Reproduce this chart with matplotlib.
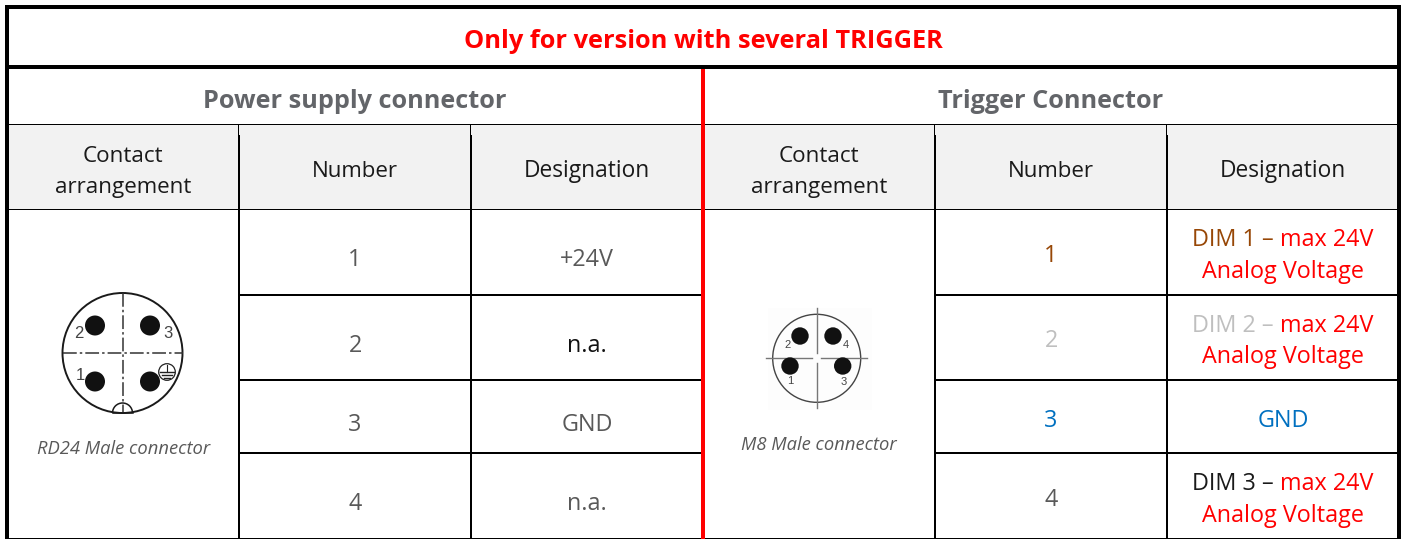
import matplotlib
matplotlib.use("Agg")
import matplotlib.pyplot as plt
from matplotlib.patches import Circle, Rectangle, Arc

FONT = "Open Sans"
plt.rcParams["font.family"] = [FONT, "DejaVu Sans"]

TITLE = "Only for version with several TRIGGER"
SECTIONS = ["Power supply connector", "Trigger Connector"]
COLUMNS = ["Contact\narrangement", "Number", "Designation"]
LEFT_NUMBERS = ["1", "2", "3", "4"]
LEFT_DESIGNATIONS = ["+24V", "n.a.", "GND", "n.a."]
LEFT_DESIGNATION_COLORS = ["#595959", "#111111", "#595959", "#595959"]
RIGHT_NUMBERS = ["1", "2", "3", "4"]
RIGHT_NUMBER_COLORS = ["#974706", "#bfbfbf", "#0070c0", "#595959"]
CAPTIONS = ["RD24 Male connector", "M8 Male connector"]

RED = "#ff0000"
GREY = "#595959"
DARK = "#1a1a1a"
HEAD = "#636569"

fig = plt.figure(figsize=(14.03, 5.39), dpi=100)
ax = fig.add_axes([0, 0, 1, 1])
ax.set_xlim(0, 1403)
ax.set_ylim(539, 0)
ax.axis("off")

LW = 72 / 100  # one pixel in points


def hline(y, x0, x1, px, c="black", z=3):
    ax.add_patch(Rectangle((x0, y - px / 2), x1 - x0, px, fc=c, ec="none", zorder=z))


def vline(x, y0, y1, px, c="black", z=3):
    ax.add_patch(Rectangle((x - px / 2, y0), px, y1 - y0, fc=c, ec="none", zorder=z))


def width_of(s, **kw):
    r = fig.canvas.get_renderer()
    a = ax.text(0, 0, s + ".", **kw)
    b = ax.text(0, 0, ".", **kw)
    w = a.get_window_extent(r).width - b.get_window_extent(r).width
    a.remove()
    b.remove()
    return w


def rich(cx, y, parts, size):
    kw = dict(fontsize=size)
    total = width_of("".join(p[0] for p in parts), **kw)
    x = cx - total / 2
    prefix = ""
    for s, c in parts:
        ax.text(x + (width_of(prefix, **kw) if prefix else 0), y, s, color=c,
                ha="left", va="baseline", **kw)
        prefix += s


# header fill
ax.add_patch(Rectangle((9, 125), 1388, 84, fc="#f2f2f2", ec="none", zorder=1))

# horizontal rules
hline(7, 5, 1401, 4)
hline(67, 5, 1401, 4)
hline(124.5, 9, 1397, 1)
hline(209.5, 9, 1397, 1)
for y in (295, 380, 453):
    hline(y, 239, 703, 2)
    hline(y, 935, 1397, 2)
hline(538.5, 5, 1401, 1.5)

# vertical rules
vline(7, 5, 539, 4)
vline(1399, 5, 539, 4)
vline(703, 69, 539, 3.5, RED, z=4)
for x in (239, 471, 935, 1167):
    vline(x - 0.5, 125, 135, 1)
    vline(x, 135, 539, 2)

COL = 16.1
VAL = 16.8

ax.text(703, 48, TITLE, color=RED, fontsize=18.25, fontweight="bold", ha="center", va="baseline")
ax.text(355, 108, SECTIONS[0], color=HEAD, fontsize=18.2, fontweight="bold", ha="center", va="baseline")
ax.text(1051, 108, SECTIONS[1], color=HEAD, fontsize=18.2, fontweight="bold", ha="center", va="baseline")

for off in (0, 696):
    a, b = COLUMNS[0].split("\n")
    ax.text(123 + off, 161.5, a, color=DARK, fontsize=COL, ha="center", va="baseline")
    ax.text(123 + off, 193, b, color=DARK, fontsize=COL, ha="center", va="baseline")
    ax.text(355 + off, 177, COLUMNS[1], color=DARK, fontsize=COL, ha="center", va="baseline")
    ax.text(587 + off, 177, COLUMNS[2], color=DARK, fontsize=COL + 0.3, ha="center", va="baseline")

for y, n, d, c in zip((266, 352, 431, 510), LEFT_NUMBERS, LEFT_DESIGNATIONS, LEFT_DESIGNATION_COLORS):
    ax.text(355, y, n, color=GREY, fontsize=VAL, ha="center", va="baseline")
    ax.text(587, y, d, color=c, fontsize=VAL, ha="center", va="baseline")

for y, n, c in zip((262, 347, 427, 506), RIGHT_NUMBERS, RIGHT_NUMBER_COLORS):
    ax.text(1051, y, n, color=c, fontsize=VAL, ha="center", va="baseline")

SUFFIX = "max 24V"
ANALOG = "Analog Voltage"
rich(1283, 246, [("DIM 1 ", "#974706"), ("\u2013 ", "#974706"), (SUFFIX, RED)], VAL)
ax.text(1283, 278, ANALOG, color=RED, fontsize=VAL, ha="center", va="baseline")
rich(1283, 332, [("DIM 2 \u2013 ", "#bfbfbf"), (SUFFIX, RED)], VAL)
ax.text(1283, 363, ANALOG, color=RED, fontsize=VAL, ha="center", va="baseline")
ax.text(1283, 427, "GND", color="#0070c0", fontsize=VAL, ha="center", va="baseline")
rich(1283, 490, [("DIM 3 \u2013 ", DARK), (SUFFIX, RED)], VAL)
ax.text(1283, 522, ANALOG, color=RED, fontsize=VAL, ha="center", va="baseline")

# captions
ax.text(123.5, 453.5, CAPTIONS[0], color=GREY, fontsize=13.2, fontstyle="italic", ha="center", va="baseline")
ax.text(819, 449.5, CAPTIONS[1], color=GREY, fontsize=13.2, fontstyle="italic", ha="center", va="baseline")

# RD24 connector
RD_C = (122.5, 353)
RD_PINS = [(95, 325.5), (150, 325.5), (95, 381.5), (150, 381.5)]
RD_LABELS = [("2", 79, 334), ("3", 167.5, 334), ("1", 80, 376)]
ax.add_patch(Circle(RD_C, 60, fc="white", ec="#1a1a1a", lw=1.4, zorder=2))
for p in RD_PINS:
    ax.add_patch(Circle(p, 10, fc="#111111", ec="none", zorder=3))
dash = (0, (9, 2, 1.6, 2))
ax.plot([62.5, 182.5], [353, 353], color="#333333", lw=1.1, ls=dash, zorder=3)
ax.plot([122.5, 122.5], [293, 413], color="#333333", lw=1.1, ls=dash, zorder=3)
for s, x, y in RD_LABELS:
    ax.text(x, y, s, color="#444444", fontsize=12, family="Liberation Sans", ha="center", va="center", zorder=4)
# key
ax.add_patch(Arc((122.5, 413), 20, 20, theta1=180, theta2=360, ec="#1a1a1a", lw=1.1, zorder=4))
ax.plot([112.5, 132.5], [413, 413], color="#1a1a1a", lw=1.1, zorder=4)
# earth symbol
ax.add_patch(Circle((167, 372), 8.3, fc="white", ec="#222222", lw=0.9, zorder=4))
ax.plot([167, 167], [364.5, 372], color="#222222", lw=0.8, zorder=5)
ax.plot([160, 174], [372, 372], color="#222222", lw=1.0, zorder=5)
ax.plot([162, 172], [375, 375], color="#222222", lw=1.0, zorder=5)
ax.plot([164, 170], [378, 378], color="#222222", lw=1.0, zorder=5)

# M8 connector
M8_C = (816.7, 358.3)
M8_PINS = [(800, 336), (833, 336), (790, 366), (842.7, 366)]
M8_LABELS = [("2", 787.5, 345), ("4", 846, 345), ("1", 790, 381.5), ("3", 844, 382)]
ax.add_patch(Rectangle((768, 308), 104, 102, fc="#fdfdfd", ec="none", zorder=1))
ax.add_patch(Circle(M8_C, 44, fc="none", ec="#444444", lw=1.0, zorder=2))
ax.plot([766, 812], [358.3, 358.3], color="#777777", lw=1.0, zorder=2)
ax.plot([821, 867], [358.3, 358.3], color="#777777", lw=1.0, zorder=2)
ax.plot([816.7, 816.7], [308, 353], color="#777777", lw=1.0, zorder=2)
ax.plot([816.7, 816.7], [363, 408], color="#777777", lw=1.0, zorder=2)
for p in M8_PINS:
    ax.add_patch(Circle(p, 8.7, fc="#111111", ec="none", zorder=3))
for s, x, y in M8_LABELS:
    ax.text(x, y, s, color="#444444", fontsize=8, family="Liberation Sans", ha="center", va="center", zorder=4)

fig.savefig("out.png", dpi=100, facecolor="white")
